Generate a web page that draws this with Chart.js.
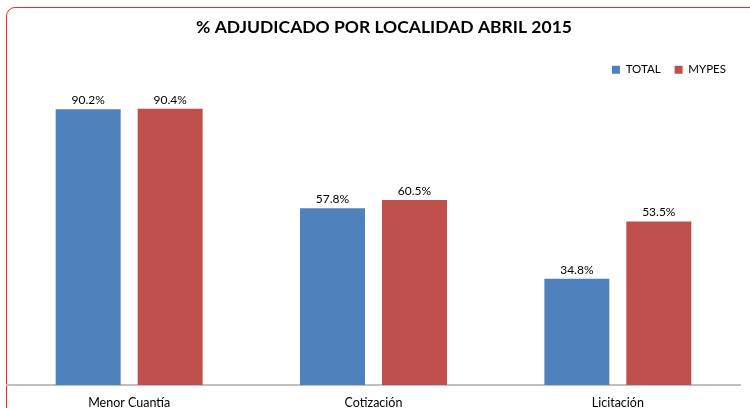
<!DOCTYPE html>
<html>
<head>
<meta charset="utf-8">
<script src="https://cdn.jsdelivr.net/npm/chart.js@4"></script>
<style>
  html, body { margin: 0; padding: 0; background: #fff; overflow: hidden; }
  #wrap { position: relative; width: 750px; height: 408px; }
  #frame { position: absolute; left: 6px; top: 7px; width: 800px; height: 500px;
           border: 1px solid #ff2020; border-radius: 9px; box-sizing: border-box; }
  canvas { position: absolute; left: 0; top: 0; }
</style>
</head>
<body>
<div id="wrap">
  <div id="frame"></div>
  <canvas id="chart" width="750" height="408"></canvas>
</div>
<script>
/* ---------------- Data ---------------- */
const categories = ['Menor Cuantía', 'Cotización', 'Licitación'];
const totalValues = [90.2, 57.8, 34.8];
const mypesValues = [90.4, 60.5, 53.5];
const seriesNames = ['TOTAL', 'MYPES'];
const colors = ['#4f81bd', '#c0504d'];

const FONT = 'Lato, "Open Sans", sans-serif';

// Percent labels above each bar, and nudge the title a bit to the right
const valueLabels = {
  id: 'valueLabels',
  afterLayout(chart) {
    if (chart.titleBlock) chart.titleBlock.left += 21;
    if (chart.legend) chart.legend.left -= 4;
  },
  afterDatasetsDraw(chart) {
    const ctx = chart.ctx;
    ctx.save();
    ctx.font = '12px ' + FONT;
    ctx.fillStyle = '#000';
    ctx.textAlign = 'center';
    ctx.textBaseline = 'alphabetic';
    chart.data.datasets.forEach((ds, i) => {
      chart.getDatasetMeta(i).data.forEach((bar, j) => {
        ctx.fillText(ds.data[j].toFixed(1) + '%', bar.x, bar.y - 5);
      });
    });
    ctx.restore();
  }
};

const ctx = document.getElementById('chart').getContext('2d');
new Chart(ctx, {
  type: 'bar',
  data: {
    labels: categories,
    datasets: [
      { label: seriesNames[0], data: totalValues, backgroundColor: colors[0] },
      { label: seriesNames[1], data: mypesValues, backgroundColor: colors[1] }
    ]
  },
  options: {
    responsive: false,
    animation: false,
    layout: { padding: { left: 7, right: 10, top: 17, bottom: -12 } },
    datasets: {
      bar: { categoryPercentage: 0.671, barPercentage: 0.793 }
    },
    plugins: {
      title: {
        display: true,
        text: '% ADJUDICADO POR LOCALIDAD ABRIL 2015',
        color: '#000',
        font: { family: FONT, size: 17.5, weight: 'bold' },
        padding: { top: 0, bottom: 12 }
      },
      legend: {
        display: true,
        align: 'end',
        labels: {
          boxWidth: 8, boxHeight: 8, color: '#000',
          font: { family: FONT, size: 11.5 },
          padding: 14
        }
      },
      tooltip: { enabled: false }
    },
    scales: {
      x: {
        grid: { display: false, drawTicks: false },
        border: { display: true, color: '#bfbfbf', width: 2 },
        ticks: {
          color: '#000', padding: 10,
          font: { family: FONT, size: 12.5 }
        }
      },
      y: { display: false, min: 0, max: 98 }
    }
  },
  plugins: [valueLabels]
});
</script>
</body>
</html>
